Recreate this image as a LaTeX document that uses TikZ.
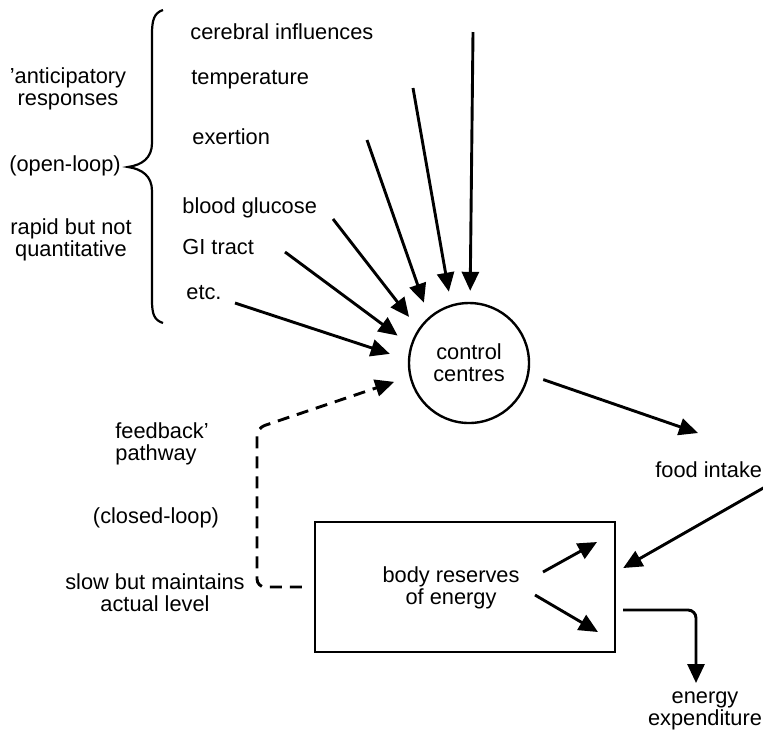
\documentclass[tikz,border=0pt]{standalone}
\usepackage{fontspec}
\setmainfont{Liberation Sans}
\usetikzlibrary{arrows.meta}
\usetikzlibrary{positioning}

\tikzset{
  lbl/.style={inner sep=0pt, font=\fontsize{10.9}{11}\selectfont},
  arr/.style={line width=1.45pt, -{Triangle[length=9.5pt,width=8.5pt]}},
  fback/.style={arr, dash pattern=on 6pt off 4pt, rounded corners=4pt},
}

\begin{document}
\begin{tikzpicture}[x=0.5pt, y=-0.5pt]
\useasboundingbox (0,0) rectangle (763,730);

%Zentrum
\node[lbl, circle, draw, line width=1.2pt, minimum size=60pt, align=center] (cc) at (469,363) {control\\centres};
\node[draw, line width=1.2pt, minimum width=150pt, minimum height=65pt] (box) at (465,587) {};
\node[lbl, align=center] (res) at (451,588) {body reserves\\of energy};

%links
\node[lbl, align=center] (ant) at (68,89) {'anticipatory\\responses};
\node[lbl] (opl) at (65,166) {(open-loop)};
\node[lbl, align=center] (rap) at (71,240) {rapid but not\\quantitative};
\node[lbl, align=left, anchor=west] (fbk) at (115,444) {feedback'\\pathway};
\node[lbl] (cll) at (156,518) {(closed-loop)};
\node[lbl, align=center] (slw) at (155,593) {slow but maintains\\actual level};

\draw[line width=1.1pt] (163,10) .. controls (154,13) and (152,20) .. (152,34)
-- (152,143) .. controls (152,158) and (142,165) .. (128,167)
.. controls (142,169) and (152,176) .. (152,191)
-- (152,300) .. controls (152,314) and (154,320) .. (163,323);

%Eingaben
\node[lbl, anchor=west] (cer) at (190,32) {cerebral influences};
\node[lbl, anchor=west] (tmp) at (191,80) {temperature};
\node[lbl, anchor=west] (exe) at (192,137) {exertion};
\node[lbl, anchor=west] (glu) at (182,208) {blood glucose};
\node[lbl, anchor=west] (git) at (182,247) {GI tract};
\node[lbl, anchor=west] (etc) at (186,293) {etc.};

\coordinate (cerS) at (473,32);
\coordinate (tmpS) at (413,88);
\coordinate (exeS) at (367,140);
\coordinate (gluS) at (333,219);
\coordinate (gitS) at (285,252);
\coordinate (etcS) at (235,303);

\draw[arr, shorten >=5.5pt] (cerS) -- (cc.89);
\draw[arr, shorten >=6.5pt] (tmpS) -- (cc.107);
\draw[arr, shorten >=7.5pt] (exeS) -- (cc.131);
\draw[arr, shorten >=7.5pt] (gluS) -- (cc.146);
\draw[arr, shorten >=8pt] (gitS) -- (cc.163);
\draw[arr, shorten >=9.5pt] (etcS) -- (cc.177);

%Rueckkopplung
\coordinate (fbC) at (257,428);
\draw[fback, shorten <=6pt, shorten >=8pt] (box.west) -| (fbC) -- (cc.193);

%rechts
\node[lbl, anchor=west] (food) at (655,470) {food intake};
\coordinate (fiT) at (698,433);
\coordinate (fiS) at (765,487);
\draw[arr, shorten <=7.5pt] (cc.-11) -- (fiT);
\draw[arr] (fiS) -- ([shift={(7,-19)}]box.east);

\coordinate (upS) at (543,572);
\coordinate (upE) at (597,542);
\coordinate (dnS) at (535,595);
\coordinate (dnE) at (598,632);
\draw[arr] (upS) -- (upE);
\draw[arr] (dnS) -- (dnE);

\coordinate (eeT) at (696,683);
\node[lbl, align=center] (ene) at (705,711) {energy\\expenditure};
\draw[arr, rounded corners=4pt] ([shift={(7,23)}]box.east) -| (eeT);

\end{tikzpicture}
\end{document}
